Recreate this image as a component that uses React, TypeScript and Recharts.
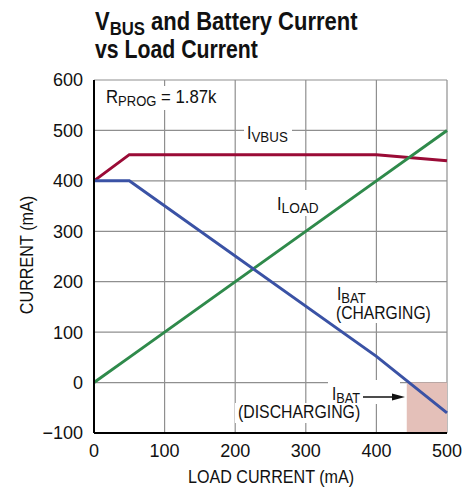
import React from 'react';
import { LineChart, Line, XAxis, YAxis, CartesianGrid, ReferenceArea } from 'recharts';

const loadCurrent = [0, 50, 400, 500];
const iVbus = [400, 452, 452, 440];
const iBat = [400, 400, 52, -60];
const iLoad = [0, 50, 400, 500];
const xTicks = [0, 100, 200, 300, 400, 500];
const yTicks = [-100, 0, 100, 200, 300, 400, 500, 600];
const dischargeX = [443, 500];
const dischargeY = [-100, 0];

const data = loadCurrent.map((x, i) => ({ x, vbus: iVbus[i], bat: iBat[i], load: iLoad[i] }));

const FONT = '"Liberation Sans Narrow", "Liberation Sans", Arial, sans-serif';
const fmt = (v: number) => (v < 0 ? '\u2212' + Math.abs(v) : String(v));

function ST(props: { x: number; y: number; sx: number; size?: number; bold?: boolean; anchor?: string; rotate?: number; children: React.ReactNode }) {
  const { x, y, sx, size = 18, bold, anchor = 'start', rotate = 0, children } = props;
  return (
    <g transform={`translate(${x} ${y}) rotate(${rotate}) scale(${sx} 1)`}>
      <text x={0} y={0} fontSize={size} fontWeight={bold ? 'bold' : 'normal'} fill="#111" textAnchor={anchor}>
        {children}
      </text>
    </g>
  );
}

export default function App() {
  return (
    <div style={{ position: 'absolute', left: 0, top: 0, width: 473, height: 492, background: '#fff' }}>
      <LineChart width={473} height={492} data={data} margin={{ top: 80, right: 26, bottom: 0, left: 0 }}>
        <CartesianGrid stroke="#8f8f8f" strokeWidth={1.2} />
        <ReferenceArea x1={dischargeX[0]} x2={dischargeX[1]} y1={dischargeY[0]} y2={dischargeY[1]} fill="#e4c0b9" fillOpacity={1} stroke="none" />
        <XAxis dataKey="x" type="number" domain={[0, 500]} ticks={xTicks} height={59}
          tick={{ fontSize: 18, fill: '#111', fontFamily: FONT }} tickLine={false} tickMargin={5}
          axisLine={{ stroke: '#000', strokeWidth: 2 }} />
        <XAxis xAxisId="top" orientation="top" type="number" domain={[0, 500]} height={0} tick={false} tickLine={false}
          axisLine={{ stroke: '#000', strokeWidth: 2 }} />
        <YAxis type="number" domain={[-100, 600]} ticks={yTicks} width={94} tickFormatter={fmt}
          tick={{ fontSize: 18, fill: '#111', fontFamily: FONT }} tickLine={false} tickMargin={5}
          axisLine={{ stroke: '#000', strokeWidth: 2 }} />
        <YAxis yAxisId="right" orientation="right" type="number" domain={[-100, 600]} width={0} tick={false} tickLine={false}
          axisLine={{ stroke: '#000', strokeWidth: 2 }} />
        <Line dataKey="vbus" type="linear" stroke="#9a0b36" strokeWidth={3} dot={false} isAnimationActive={false} />
        <Line dataKey="load" type="linear" stroke="#2f8a4b" strokeWidth={3} dot={false} isAnimationActive={false} />
        <Line dataKey="bat" type="linear" stroke="#3a52a5" strokeWidth={3} dot={false} isAnimationActive={false} />
      </LineChart>
      <svg width={473} height={492} style={{ position: 'absolute', left: 0, top: 0, pointerEvents: 'none' }} fontFamily={FONT}>
        <ST x={95} y={30} sx={0.88} size={25} bold>
          V<tspan fontSize={19} dy={5}>BUS</tspan><tspan dy={-5}> and Battery Current</tspan>
        </ST>
        <ST x={95} y={58} sx={0.85} size={25} bold>vs Load Current</ST>

        <rect x={103} y={86} width={114} height={24} fill="#fff" />
        <ST x={106} y={103} sx={0.93}>
          R<tspan fontSize={14} dy={3}>PROG</tspan><tspan dy={-3}> = 1.87k</tspan>
        </ST>

        <rect x={244} y={125} width={48} height={22} fill="#fff" />
        <ST x={247} y={139} sx={0.89}>
          I<tspan fontSize={15} dy={3}>VBUS</tspan>
        </ST>

        <rect x={274} y={190} width={48} height={26} fill="#fff" />
        <ST x={277} y={210} sx={0.91}>
          I<tspan fontSize={15} dy={3}>LOAD</tspan>
        </ST>

        <rect x={333} y={283} width={100} height={40} fill="#fff" />
        <ST x={337} y={300} sx={0.87}>
          I<tspan fontSize={15} dy={3}>BAT</tspan>
        </ST>
        <ST x={336} y={319} sx={0.87}>(CHARGING)</ST>

        <rect x={328} y={380} width={72} height={24} fill="#fff" />
        <rect x={235} y={403} width={128} height={20} fill="#fff" />
        <ST x={332} y={400} sx={0.85}>
          I<tspan fontSize={15} dy={3}>BAT</tspan>
        </ST>
        <line x1={363} y1={397} x2={396} y2={397} stroke="#111" strokeWidth={1.3} />
        <polygon points="392,393.5 405,397 392,400.5" fill="#111" />
        <ST x={238} y={418} sx={0.88}>(DISCHARGING)</ST>

        <ST x={33} y={255} sx={0.9} anchor="middle" rotate={-90}>CURRENT (mA)</ST>
        <ST x={271} y={483} sx={0.895} anchor="middle">LOAD CURRENT (mA)</ST>
      </svg>
    </div>
  );
}
